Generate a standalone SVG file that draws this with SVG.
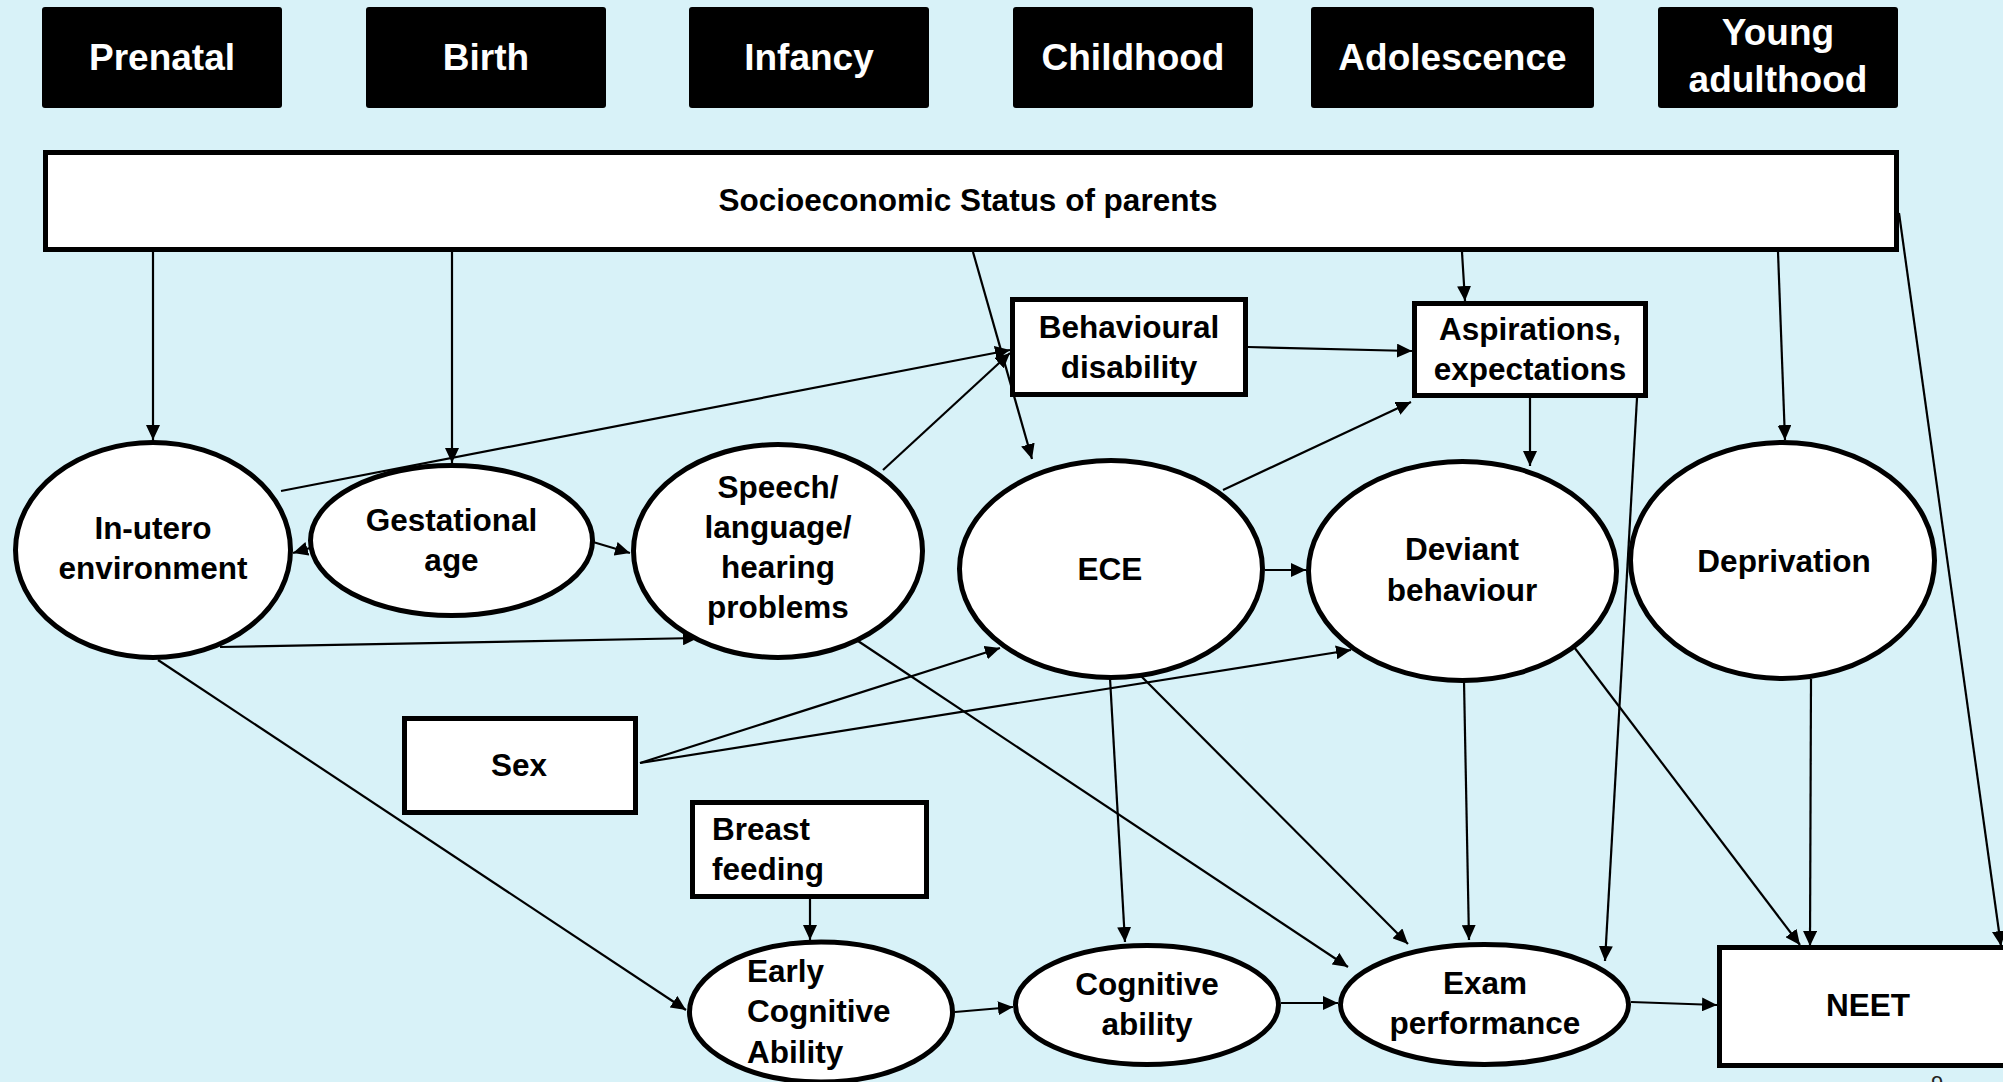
<svg xmlns="http://www.w3.org/2000/svg" width="2003" height="1082" viewBox="0 0 2003 1082">
  <style>
    .stage rect { fill: #000; }
    .stage text { fill: #fff; font-family: "Liberation Sans", Arial, sans-serif; font-weight: bold; font-size: 37px; text-anchor: middle; }
    .node ellipse, .node rect { fill: #fff; stroke: #000; stroke-width: 5; }
    .node text { fill: #000; font-family: "Liberation Sans", Arial, sans-serif; font-weight: bold; font-size: 31.5px; text-anchor: middle; }
    .node text.left { text-anchor: start; }
    #connectors line { stroke: #000; stroke-width: 2.2; fill: none; marker-end: url(#arrow); }
    .pageno { fill: #222; font-family: "Liberation Sans", Arial, sans-serif; font-size: 22px; text-anchor: middle; }
  </style>
  <defs>
    <marker id="arrow" viewBox="0 0 15 14" refX="15" refY="7" markerWidth="15" markerHeight="14" markerUnits="userSpaceOnUse" orient="auto">
      <path d="M0,0 L15,7 L0,14 z" fill="#000"/>
    </marker>
  </defs>

  <rect x="0" y="0" width="2003" height="1082" fill="#D8F2F8"/>

  <!-- life-stage headers -->
  <g id="stage-prenatal" class="stage"><rect x="42" y="7" width="240" height="101" rx="3"/><text x="162" y="70">Prenatal</text></g>
  <g id="stage-birth" class="stage"><rect x="366" y="7" width="240" height="101" rx="3"/><text x="486" y="70">Birth</text></g>
  <g id="stage-infancy" class="stage"><rect x="689" y="7" width="240" height="101" rx="3"/><text x="809" y="70">Infancy</text></g>
  <g id="stage-childhood" class="stage"><rect x="1013" y="7" width="240" height="101" rx="3"/><text x="1133" y="70">Childhood</text></g>
  <g id="stage-adolescence" class="stage"><rect x="1311" y="7" width="283" height="101" rx="3"/><text x="1452.5" y="70">Adolescence</text></g>
  <g id="stage-young-adulthood" class="stage"><rect x="1658" y="7" width="240" height="101" rx="3"/><text x="1778" y="45">Young</text><text x="1778" y="92">adulthood</text></g>

  <!-- nodes -->
  <g id="ses" class="node"><rect x="45.5" y="152.5" width="1851" height="97"/><text x="968" y="211">Socioeconomic Status of parents</text></g>

  <g id="in-utero" class="node"><ellipse cx="153" cy="550" rx="137.5" ry="107.5"/><text x="153" y="539">In-utero</text><text x="153" y="579">environment</text></g>
  <g id="gestational-age" class="node"><ellipse cx="451.5" cy="540.5" rx="141" ry="75"/><text x="451.5" y="531">Gestational</text><text x="451.5" y="571">age</text></g>
  <g id="speech" class="node"><ellipse cx="778" cy="551" rx="144.5" ry="106.5"/><text x="778" y="498">Speech/</text><text x="778" y="538">language/</text><text x="778" y="578">hearing</text><text x="778" y="618">problems</text></g>
  <g id="ece" class="node"><ellipse cx="1111" cy="569" rx="151.5" ry="108.5"/><text x="1110" y="580">ECE</text></g>
  <g id="deviant" class="node"><ellipse cx="1462.5" cy="571" rx="154" ry="109.5"/><text x="1462" y="560">Deviant</text><text x="1462" y="601">behaviour</text></g>
  <g id="deprivation" class="node"><ellipse cx="1782.5" cy="560.5" rx="152" ry="118"/><text x="1784" y="572">Deprivation</text></g>

  <g id="behavioural-disability" class="node"><rect x="1012.5" y="299.5" width="233" height="95"/><text x="1129" y="338">Behavioural</text><text x="1129" y="378">disability</text></g>
  <g id="aspirations" class="node"><rect x="1414.5" y="303.5" width="231" height="92"/><text x="1530" y="340">Aspirations,</text><text x="1530" y="380">expectations</text></g>
  <g id="sex" class="node"><rect x="404.5" y="718.5" width="231" height="94"/><text x="519" y="776">Sex</text></g>
  <g id="breast-feeding" class="node"><rect x="692.5" y="802.5" width="234" height="94"/><text class="left" x="712" y="840">Breast</text><text class="left" x="712" y="880">feeding</text></g>

  <g id="early-cognitive" class="node"><ellipse cx="821" cy="1012" rx="131.5" ry="70"/><text class="left" x="747" y="982">Early</text><text class="left" x="747" y="1022">Cognitive</text><text class="left" x="747" y="1063">Ability</text></g>
  <g id="cognitive-ability" class="node"><ellipse cx="1147" cy="1005" rx="131.5" ry="59.5"/><text x="1147" y="995">Cognitive</text><text x="1147" y="1035">ability</text></g>
  <g id="exam" class="node"><ellipse cx="1484.5" cy="1004.5" rx="144" ry="60"/><text x="1485" y="994">Exam</text><text x="1485" y="1034">performance</text></g>
  <g id="neet" class="node"><rect x="1719.5" y="947.5" width="300" height="118"/><text x="1868" y="1016">NEET</text></g>

  <!-- directed links -->
  <g id="connectors">
    <line x1="153" y1="252" x2="153" y2="440"/>
    <line x1="452" y1="252" x2="452" y2="463"/>
    <line x1="973" y1="252" x2="1032" y2="459"/>
    <line x1="1462" y1="252" x2="1465" y2="301"/>
    <line x1="1778" y1="252" x2="1785" y2="440"/>
    <line x1="1899" y1="213" x2="2001" y2="946"/>
    <line x1="310" y1="548" x2="293" y2="553"/>
    <line x1="593" y1="542" x2="630" y2="553"/>
    <line x1="281" y1="491" x2="1010" y2="350"/>
    <line x1="883" y1="470" x2="1010" y2="353"/>
    <line x1="220" y1="647" x2="698" y2="638"/>
    <line x1="158" y1="660" x2="686" y2="1010"/>
    <line x1="1248" y1="347" x2="1412" y2="351"/>
    <line x1="1223" y1="490" x2="1411" y2="402"/>
    <line x1="1530" y1="398" x2="1530" y2="466"/>
    <line x1="1637" y1="398" x2="1605" y2="961"/>
    <line x1="1265" y1="570" x2="1306" y2="570"/>
    <line x1="640" y1="763" x2="1000" y2="648"/>
    <line x1="640" y1="763" x2="1351" y2="650"/>
    <line x1="810" y1="899" x2="810" y2="940"/>
    <line x1="955" y1="1012" x2="1013" y2="1007"/>
    <line x1="1110" y1="678" x2="1125" y2="942"/>
    <line x1="1140" y1="675" x2="1408" y2="944"/>
    <line x1="858" y1="641" x2="1348" y2="967"/>
    <line x1="1464" y1="681" x2="1469" y2="940"/>
    <line x1="1281" y1="1003" x2="1338" y2="1003"/>
    <line x1="1631" y1="1002" x2="1717" y2="1005"/>
    <line x1="1574" y1="647" x2="1800" y2="945"/>
    <line x1="1811" y1="679" x2="1810" y2="946"/>
  </g>

  <text class="pageno" x="1937" y="1091">9</text>
</svg>
